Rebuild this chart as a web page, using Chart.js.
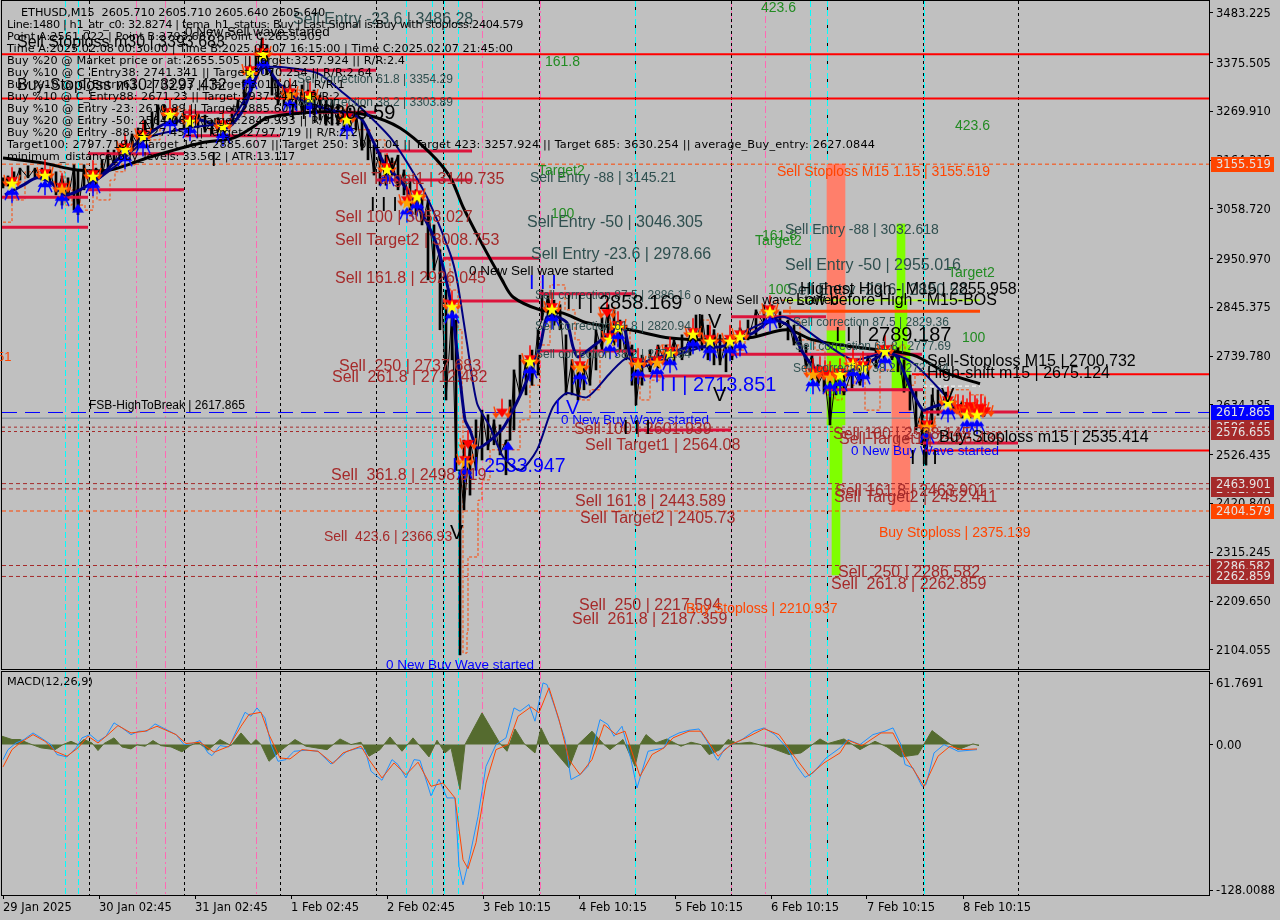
<!DOCTYPE html>
<html>
<head>
<meta charset="utf-8">
<title>ETHUSD,M15</title>
<script src="https://cdn.jsdelivr.net/npm/chart.js@4"></script>
<style>
  html, body { margin: 0; padding: 0; background: #c0c0c0; }
  canvas { position: absolute; left: 0; }
  #priceChart { top: 0; }
  #macdChart { top: 670px; }
</style>
</head>
<body>
<canvas id="priceChart" width="1280" height="670"></canvas>
<canvas id="macdChart" width="1280" height="250"></canvas>
<script>
// x is the bar number counted from the left edge of the chart (one M15 bar per pixel)
const timeTickBars = [1, 97, 193, 289, 385, 481, 577, 673, 769, 865, 961];
const timeTickLabels = ['29 Jan 2025', '30 Jan 02:45', '31 Jan 02:45', '1 Feb 02:45', '2 Feb 02:45',
  '3 Feb 10:15', '4 Feb 10:15', '5 Feb 10:15', '6 Feb 10:15', '7 Feb 10:15', '8 Feb 10:15'];
const priceTicks = [3483.225, 3375.505, 3269.91, 3164.315, 3058.72, 2950.97, 2845.375, 2739.78,
  2634.185, 2526.435, 2420.84, 2315.245, 2209.65, 2104.055];
const macdTickValues = [52, 0, -124];
const macdTickLabels = ['61.7691', '0.00', '-128.0088'];

// price bars
const barBars = [1,6,12,18,26,33,40,48,54,60,66,72,76,82,88,94,100,106,112,118,124,130,136,143,150,156,162,168,174,182,188,196,203,210,216,222,230,236,242,248,254,260,265,270,276,282,288,294,300,306,312,318,324,330,336,342,348,354,360,366,372,378,384,390,396,402,408,414,420,426,432,438,444,450,454,458,462,468,474,480,486,492,498,504,508,512,518,524,530,536,540,546,552,558,564,570,576,582,588,594,600,606,612,618,624,630,634,640,648,656,664,672,680,688,694,700,706,712,718,724,730,738,746,754,762,770,778,786,792,798,804,810,816,822,828,834,842,850,858,866,874,882,890,896,902,908,914,920,924,930,936,944,952,960,968,976,982];
const barHighs = [3126,3130,3139,3147,3152,3147,3147,3143,3139,3130,3126,3154,3143,3154,3139,3147,3165,3186,3186,3197,3208,3221,3234,3251,3269,3284,3284,3277,3277,3269,3273,3269,3262,3251,3256,3247,3277,3295,3338,3370,3403,3429,3414,3359,3338,3327,3327,3316,3327,3316,3316,3305,3295,3295,3284,3273,3277,3269,3256,3230,3197,3186,3175,3169,3175,3143,3121,3100,3089,3078,3024,2970,2883,2840,2818,2493,2558,2558,2602,2623,2613,2602,2591,2558,2645,2710,2742,2732,2753,2797,2883,2872,2861,2851,2786,2732,2710,2721,2753,2797,2823,2851,2840,2818,2807,2764,2710,2742,2753,2764,2764,2775,2786,2786,2829,2829,2807,2797,2786,2775,2786,2801,2818,2840,2851,2851,2836,2818,2807,2786,2764,2742,2721,2706,2699,2699,2699,2710,2721,2742,2753,2764,2764,2758,2732,2699,2667,2623,2580,2656,2667,2662,2645,2641,2634,2628,2623];
const barLows = [3104,3108,3113,3121,3126,3126,3121,3110,3089,3067,3078,3056,3046,3100,3100,3108,3130,3147,3154,3165,3175,3186,3197,3208,3225,3240,3251,3240,3240,3230,3230,3234,3225,3219,3225,3219,3240,3256,3284,3316,3349,3377,3349,3305,3284,3284,3277,3273,3269,3273,3262,3251,3240,3240,3240,3230,3234,3230,3186,3165,3132,3110,3110,3132,3100,3089,3056,3046,3024,2905,2926,2797,2645,2732,2493,2093,2407,2439,2493,2515,2537,2548,2526,2483,2558,2580,2656,2656,2677,2699,2818,2829,2807,2797,2656,2656,2645,2667,2677,2710,2753,2775,2764,2753,2732,2677,2634,2677,2706,2714,2721,2721,2732,2742,2764,2753,2732,2721,2721,2706,2732,2753,2775,2786,2807,2814,2801,2775,2764,2749,2714,2688,2677,2662,2591,2656,2656,2671,2677,2693,2714,2727,2732,2706,2662,2623,2580,2548,2504,2591,2612,2634,2619,2606,2606,2606,2610];

// long moving average
const slowAvgBars = [1,41,75,108,148,198,231,251,265,298,331,365,398,428,448,461,478,500,511,538,561,585,628,668,718,751,785,811,851,911,945,978];
const slowAvgValues = [3169,3158,3143,3143,3171,3201,3212,3236,3256,3266,3269,3262,3234,3180,3128,3063,2991,2905,2868,2840,2833,2812,2797,2779,2775,2781,2797,2775,2760,2742,2703,2680];

// fast and mid navy averages
const fastBars = [3,21,35,48,63,78,98,115,148,165,198,225,241,261,278,298,328,358,368,383,398,418,433,443,450,456,463,468,475,485,501,511,525,538,545,555,565,571,576,595,621,631,658,688,718,751,771,788,801,818,838,858,885,895,908,921,931,948,961,983];
const fastValues = [3089,3110,3126,3117,3089,3100,3128,3165,3223,3245,3251,3234,3273,3370,3327,3295,3273,3256,3219,3154,3121,3056,2991,2916,2840,2732,2602,2580,2541,2552,2584,2623,2688,2760,2825,2825,2812,2760,2738,2768,2803,2725,2738,2760,2760,2790,2818,2803,2747,2703,2703,2716,2747,2738,2673,2623,2630,2638,2617,2612];
const midBars = [95,115,148,188,228,248,261,315,341,361,388,408,425,448,455,465,475,488,501,518,535,551,565,585,608,625,638,668,701,731,781,818,851,885,911,945];
const midValues = [3121,3154,3214,3234,3251,3316,3364,3353,3310,3273,3214,3149,3084,2963,2905,2768,2638,2587,2522,2493,2537,2630,2660,2651,2703,2736,2716,2738,2760,2781,2825,2775,2732,2747,2725,2651];

// orange stepped trail
const trailBars = [1,10,23,48,58,63,70,78,83,91,95,108,113,123,133,148,158,173,193,203,213,228,243,256,266,278,298,318,343,353,368,383,393,408,428,438,448,456,460,461,465,466,476,480,488,498,508,518,528,538,548,563,573,578,588,598,608,618,628,638,648,658,678,688,698,708,723,733,743,758,773,788,798,813,823,833,840,853,863,878,898,903,913,923,933,948,958,968,983];
const trailValues = [3030,3078,3139,3154,3139,3067,3100,3067,3056,3139,3078,3121,3139,3154,3197,3208,3240,3273,3256,3230,3219,3262,3338,3403,3392,3316,3295,3277,3262,3230,3208,3121,3132,3078,3002,2948,2883,2797,2645,2097,2141,2305,2428,2472,2537,2548,2537,2602,2677,2764,2894,2840,2775,2645,2667,2753,2764,2797,2732,2645,2688,2764,2753,2764,2818,2753,2775,2753,2797,2840,2861,2818,2775,2753,2656,2645,2677,2688,2623,2710,2764,2677,2699,2580,2623,2667,2667,2656,2612];

// signal clusters
const yellowBars = [10,43,91,123,141,168,188,221,248,261,308,345,385,415,450,528,550,608,616,668,691,708,728,738,768,838,851,861,883,946,965,975];
const yellowValues = [3113,3130,3128,3186,3214,3262,3247,3236,3353,3392,3299,3251,3143,3084,2846,2727,2840,2775,2801,2745,2786,2771,2771,2781,2835,2699,2721,2714,2749,2638,2612,2612];
const orangeBars = [60,288,405,463,578,636,655,811,828,925];
const orangeValues = [3100,3305,3071,2509,2714,2721,2725,2699,2693,2586];
const flameBars = [466,500,605,818,823,956,961,968,973,979,983];
const flameValues = [2552,2620,2836,2712,2704,2630,2628,2634,2628,2630,2623];
const upArrowBars = [76,506];
const upArrowValues = [3046,2532];

// horizontal levels
const fullRedLevels = [3393.683, 3297.432];
const shortRedStarts = [910, 921];
const shortRedLevels = [2700.732, 2535.414];
const crimsonStarts = [0,0,86,86,182,182,278,374,374,441,441,537,537,633,633,729,729,825,921,921];
const crimsonEnds = [86,86,182,182,278,374,374,470,470,537,537,633,633,729,729,824,920,921,1016,1016];
const crimsonLevels = [3084,3019,3100,3178,3217,3268,3359,3184,3121,2952,2859,2875,2751,2697,2580,2825,2744,2667,2619,2552];
const dottedLevels = [2586.145, 2576.655];
const brownDashLevels = [2463.901, 2452.411, 2286.582, 2262.859];
const orangeDashLevels = [3155.519, 2404.579];
const bidLevel = 2605.64;
const highToBreak = 2617.865;

// vertical time markers
const blackLines = [87, 182, 278, 374, 441, 537, 633, 729, 825, 921, 1016];
const cyanLines = [63, 76, 404, 430, 442, 456, 633, 808, 825, 922];
const pinkLines = [134, 163, 254, 480, 538, 729, 763];

// coloured zones (bar, low, high)
const zoneSalmonA = [834, 2796, 3155.5];
const zoneGreenA = [834, 2591, 2796];
const zoneGreenB = [834, 2465, 2591];
const zoneGreenC = [834, 2266, 2465];
const zoneGreenD = [899, 2861, 3026];
const zoneGreenE = [899, 2764, 2861];
const zoneGreenF = [899, 2671, 2764];
const zoneSalmonB = [899, 2405, 2671];

// right side price boxes
const boxValues = [3155.519, 2586.145, 2576.655, 2617.865, 2452.411, 2463.901, 2404.579, 2286.582, 2262.859];
const boxColors = ['#ff4500', '#a52a2a', '#a52a2a', '#0000ff', '#a52a2a', '#a52a2a', '#ff4500', '#a52a2a', '#a52a2a'];

// MACD
const macdBars = [1,6,14,22,31,39,49,55,65,74,80,88,96,104,112,120,129,137,145,153,161,174,182,190,198,206,210,218,227,235,243,249,255,263,269,276,284,292,304,316,329,337,345,357,363,369,380,390,396,404,412,418,429,437,445,453,457,461,467,476,484,494,504,512,518,527,533,541,545,553,563,569,578,586,598,606,612,620,629,635,646,662,667,677,687,697,705,714,716,722,730,740,752,762,773,785,795,803,811,824,838,846,858,871,883,891,899,903,911,920,924,932,942,956,975];
const macdValues = [-12.8,-4.3,1.4,4.3,9.9,5.7,0,-8.5,-10.5,-2.8,5.7,8.5,2.8,7.1,18.5,14.2,8.5,11.4,11.4,17.6,14.2,8.5,0,0.9,3.4,-7.1,-9.4,-0.9,-2,12.8,27.5,24.1,31.2,22.7,0,-14.2,-12.8,-5.7,-4.8,-5.7,-16.5,-11.4,-5.7,-2.8,-4.3,-22.7,-30.4,-12.8,-17,-28.4,-12.8,-13.5,-43.6,-29.5,-45.4,-45.4,-103.7,-119.3,-98,-61.1,-18.5,0,5.7,31.2,28.4,34.1,19.9,52.5,51.1,31.2,4.3,-29.8,-25.6,-18.5,21.3,17,7.1,15.6,-12.8,-36.9,-5.7,-2.8,5.7,9.9,12.2,13.3,2.8,-11.4,-13.4,-4.3,0,4.3,11.4,14.2,8.5,-2.8,-18.5,-27.9,-24.1,-11.4,-2.8,4.3,0,8.5,11.4,14.2,0,-17,-19.9,-35.5,-34.1,-7.1,0,-5.7,-4.3];
const signalBars = [1,10,18,31,43,53,65,76,86,96,106,116,129,143,155,174,184,198,212,227,239,247,259,267,278,288,300,316,331,341,359,367,380,392,404,416,429,441,453,461,466,474,484,494,506,516,529,537,547,557,567,578,590,602,614,623,638,650,662,671,687,699,716,729,744,762,777,791,807,822,838,846,860,879,891,903,922,936,948,960,975];
const signalValues = [-19,-4.3,1.4,8.5,2.8,-5.7,-9.9,-2.8,7.1,1.4,8.5,16.2,9.9,11.4,15.6,8.5,0.9,2,-6.5,-1.4,15.6,25.6,27.5,8.5,-11.4,-12.2,-4.3,-5.7,-16.2,-7.1,-1.4,-12.8,-28.4,-15.6,-25.6,-15,-35.5,-32.7,-45.4,-98,-105.6,-83.5,-32.7,-4.3,0,24.1,32.1,27,48.3,21.3,-12.8,-25.6,-12.8,17,8.5,11.4,-27,-8.5,-2.8,5.7,11.4,11.4,-9.9,0,5.7,13.5,8.5,-8.5,-26.4,-15.6,-7.1,3.7,-0.9,9.9,9.9,-9.9,-35.5,-9.9,-1.4,-4.3,-3.7];
const histBars = [0,10,18,27,39,53,61,69,76,82,90,96,102,112,120,129,135,143,151,159,169,180,188,196,206,218,229,239,249,254,259,267,280,293,304,325,338,349,359,367,378,388,400,411,427,435,443,449,458,463,480,498,505,513,522,533,539,547,567,576,590,602,608,621,633,638,644,654,665,679,689,699,707,718,726,736,748,769,787,799,818,826,842,858,873,885,899,916,930,944,956,971,977];
const histValues = [7.1,4.3,4.3,0.9,-2.8,-4.3,0,2.8,0,4.3,1.4,-5.1,0.9,5.7,-2,-3.7,-0.3,-1.4,3.4,-0.9,-2,-6.2,-0.9,2,-4.8,4.3,-0.9,9.9,0,4.3,0,-14.2,-4.3,4.3,-1.4,-4.3,4.8,0,2,-9.9,-4.3,6.5,-5.7,5.7,-10.5,3.7,-7.1,-2.8,-38.3,0,27,0.9,-5.7,13.3,0.9,-7.1,14.2,0,-19.9,0,11.4,0,-4.3,4.3,-18.5,0,8.5,1.4,4.8,-1.4,2,0,-8.5,-4.3,4.3,0.9,2,-2.8,-8.5,-7.1,4.8,0.9,4.8,-4.3,2.8,-2,-10.5,-8.5,11.9,2.8,-4.3,0.6,-0.9];

// text drawn on the price panel: text, left x, middle y, font size, colour
const BROWN = '#a52a2a', SLATE = '#2f4f4f', BLUE = '#0000ff', GREEN = '#228b22', ORANGE = '#ff4500', BLACK = '#000000';
const notes = [
  ['Sell Entry -23.6 | 3486.28', 293, 20, 16, SLATE],
  ['Sell Stoploss m30 | 3393.683', 17, 43, 16, BLACK],
  ['Buy-Stoploss m30 | 3297.432', 17, 86, 16, BLACK],
  ['0 New Sell wave started', 185, 32, 13.5, BLACK],
  ['Sell correction 61.8 | 3354.29', 297, 80, 12, SLATE],
  ['Sell correction 38.2 | 3303.89', 297, 103, 12, SLATE],
  ['I I | 3306.59', 290, 113, 20, BLACK],
  ['Sell Target1 | 3140.735', 340, 180, 16, BROWN],
  ['Sell 100 | 3058.027', 335, 218, 16, BROWN],
  ['Sell Target2 | 3008.753', 335, 241, 16, BROWN],
  ['Sell 161.8 | 2926.045', 335, 279, 16, BROWN],
  ['Sell  250 | 2737.683', 339, 367, 16, BROWN],
  ['Sell  261.8 | 2712.482', 332, 378, 16, BROWN],
  ['Sell  361.8 | 2498.919', 331, 476, 16, BROWN],
  ['Sell  423.6 | 2366.93', 324, 537, 14, BROWN],
  ['Sell Entry -88 | 3145.21', 530, 178, 14, SLATE],
  ['Sell Entry -50 | 3046.305', 527, 223, 16, SLATE],
  ['Sell Entry -23.6 | 2978.66', 531, 255, 16, SLATE],
  ['0 New Sell wave started', 469, 271, 13.5, BLACK],
  ['Sell correction 87.5 | 2886.16', 535, 296, 12, SLATE],
  ['Sell correction 61.8 | 2820.94', 535, 327, 12, SLATE],
  ['Sell correction 38.2 | 2771.94', 535, 355, 12, SLATE],
  ['I I | 2858.169', 566, 303, 20, BLACK],
  ['0 New Sell wave started', 694, 300, 13.5, BLACK],
  ['I I | 2713.851', 660, 385, 20, BLUE],
  ['I I | 2533.947', 452, 467, 19.5, BLUE],
  ['I V', 555, 408, 20, BLUE],
  ['0 New Buy Wave started', 561, 420, 13.5, BLUE],
  ['Sell 100 | 2601.939', 574, 430, 16, BROWN],
  ['Sell Target1 | 2564.08', 585, 446, 16, BROWN],
  ['Sell 161.8 | 2443.589', 575, 502, 16, BROWN],
  ['Sell Target2 | 2405.73', 580, 519, 16, BROWN],
  ['Sell  250 | 2217.594', 579, 606, 16, BROWN],
  ['Sell  261.8 | 2187.359', 572, 620, 16, BROWN],
  ['Buy Stoploss | 2210.937', 686, 609, 14, ORANGE],
  ['0 New Buy Wave started', 386, 665, 13.5, BLUE],
  ['423.6', 761, 8, 14, GREEN],
  ['161.8', 545, 62, 14, GREEN],
  ['423.6', 955, 126, 14, GREEN],
  ['Target2', 538, 171, 14, GREEN],
  ['100', 551, 214, 14, GREEN],
  ['161.8', 762, 236, 14, GREEN],
  ['Target2', 755, 241, 14, GREEN],
  ['Target2', 948, 273, 14, GREEN],
  ['100', 768, 290, 14, GREEN],
  ['100', 962, 338, 14, GREEN],
  ['Sell Stoploss M15 1.15 | 3155.519', 777, 172, 14, ORANGE],
  ['Sell Entry -88 | 3032.618', 785, 230, 14, SLATE],
  ['Sell Entry -50 | 2955.016', 785, 266, 16, SLATE],
  ['Sell Entry -23.6 | 2890.52', 787, 291, 16, SLATE],
  ['Highest High - M15 | 2855.958', 800, 290, 16, BLACK],
  ['Low before High - M15-BOS', 796, 301, 16, BLACK],
  ['Sell correction 87.5 | 2829.36', 793, 323, 12, SLATE],
  ['I I | 2789.187', 835, 335, 20, BLACK],
  ['Sell correction 61.8 | 2777.69', 795, 347, 12, SLATE],
  ['Sell correction 38.2 | 2727.44', 793, 369, 12, SLATE],
  ['Sell-Stoploss M15 | 2700.732', 927, 362, 16, BLACK],
  ['High-shift m15 | 2675.124', 927, 374, 16, BLACK],
  ['Sell 100 | 2538.145', 833, 435, 16, BROWN],
  ['Sell Target1 | 2526.435', 839, 440, 16, BROWN],
  ['Buy-Stoploss m15 | 2535.414', 939, 438, 16, BLACK],
  ['0 New Buy Wave started', 851, 451, 13.5, BLUE],
  ['Sell 161.8 | 2463.901', 835, 492, 16, BROWN],
  ['Sell Target2 | 2452.411', 834, 498, 16, BROWN],
  ['Buy Stoploss | 2375.139', 879, 533, 14, ORANGE],
  ['Sell  250 | 2286.582', 838, 573, 16, BROWN],
  ['Sell  261.8 | 2262.859', 831, 585, 16, BROWN],
  ['I I I', 370, 205, 20, BLACK],
  ['V', 386, 163, 20, BLACK],
  ['V', 450, 533, 20, BLACK],
  ['I I I', 529, 283, 20, BLUE],
  ['I V', 697, 322, 20, BLACK],
  ['I I I', 623, 428, 20, BLACK],
  ['V', 713, 395, 20, BLACK],
  ['I V', 930, 396, 20, BLACK],
  ['I I I', 910, 458, 20, BLACK],
  ['I', 211, 160, 20, BLACK],
  ['FSB-HighToBreak | 2617.865', 89, 406, 12, BLACK],
  ['51', -3, 357, 13, ORANGE]
];
const infoFont = '11.3px "DejaVu Sans"';
// text, middle y, right end of the line
const infoLines = [
  ['    ETHUSD,M15  2605.710 2605.710 2605.640 2605.640', 13, 325],
  ['Line:1480 | h1_atr_c0: 32.8274 | tema_h1_status: Buy | Last Signal is:Buy with stoploss:2404.579', 25, 523],
  ['Point A:2561.022 | Point B:2793.667 | Point C:2655.505', 37, 322],
  ['Time A:2025.02.08 00:30:00 | Time B:2025.02.07 16:15:00 | Time C:2025.02.07 21:45:00', 49, 513],
  ['Buy %20 @ Market price or at: 2655.505 || Target:3257.924 || R/R:2.4', 61, 405],
  ['Buy %10 @ C_Entry38: 2741.341 || Target:3070.254 || R/R:2.64', 73, 372],
  ['Buy %10 @ C_Entry61: 2703.23 || Target:3011.04 || R/R:1', 85, 345],
  ['Buy %10 @ C_Entry88: 2671.23 || Target:2937.841 || R/R:2', 97, 340],
  ['Buy %10 @ Entry -23: 2610.89 || Target:2885.607 || R/R:2', 109, 342],
  ['Buy %20 @ Entry -50: 2564.08 || Target:2849.993 || R/R:2', 121, 342],
  ['Buy %20 @ Entry -88: 2527.451 || Target:2797.719 || R/R:2.2', 133, 358],
  ['Target100: 2797.719 || Target 161: 2885.607 || Target 250: 3011.04 || Target 423: 3257.924 || Target 685: 3630.254 || average_Buy_entry: 2627.0844', 145, 875],
  ['minimum_distance_buy_levels: 33.562 | ATR:13.117', 157, 295]
];

const xy = (xs, ys) => xs.map((x, i) => ({ x: x, y: ys[i] }));
const line = (data, color, width, order, extra) => Object.assign({
  type: 'line', data: data, borderColor: color, borderWidth: width, pointRadius: 0, order: order, fill: false, spanGaps: false
}, extra || {});
const zone = (z, color, thickness) => ({
  type: 'bar', data: [{ x: z[0], y: [z[1], z[2]] }], backgroundColor: color, barThickness: thickness, grouped: false, order: 90
});
const segments = (starts, ends, levels) => {
  const out = [];
  levels.forEach((l, i) => { out.push({ x: starts[i], y: l }, { x: ends[i], y: l }, { x: ends[i], y: null }); });
  return out;
};
const full = (levels) => segments(levels.map(() => 0), levels.map(() => 1207), levels);
// black zigzag joining the bar ends, so the gaps between the bars fill in like the dense M15 bars
const zigzag = barBars.map((b, i) => ({ x: b, y: i % 2 ? barHighs[i] : barLows[i] }));

// signal icons
function iconCanvas(w, h, draw) {
  const c = document.createElement('canvas');
  c.width = w; c.height = h;
  draw(c.getContext('2d'), w / 2, h / 2);
  return c;
}
function star(ctx, cx, cy, r, color) {
  ctx.fillStyle = color;
  ctx.beginPath();
  for (let i = 0; i < 10; i++) {
    const a = -Math.PI / 2 + i * Math.PI / 5, q = i % 2 ? r * 0.4 : r;
    ctx.lineTo(cx + q * Math.cos(a), cy + q * Math.sin(a));
  }
  ctx.closePath();
  ctx.fill();
}
function arrow(ctx, x, y, dir, size, color, lean) {
  ctx.fillStyle = color;
  ctx.strokeStyle = color;
  ctx.lineWidth = 1.5;
  ctx.beginPath();
  ctx.moveTo(x, y);
  ctx.lineTo(x + size * 0.55, y + dir * size * 0.8);
  ctx.lineTo(x - size * 0.55, y + dir * size * 0.8);
  ctx.closePath();
  ctx.fill();
  ctx.beginPath();
  ctx.moveTo(x, y + dir * size * 0.6);
  ctx.lineTo(x + (lean || 0), y + dir * size * 1.7);
  ctx.stroke();
}
function flames(ctx, cx, cy) {
  arrow(ctx, cx - 6, cy + 3, -1, 7, '#ff4500', -2);
  arrow(ctx, cx + 6, cy + 3, -1, 7, '#ff4500', 2);
  arrow(ctx, cx, cy + 2, -1, 11, '#ff0000', 0);
}
function blues(ctx, cx, cy) {
  arrow(ctx, cx - 4, cy + 6, 1, 6, '#0000ff', -3);
  arrow(ctx, cx + 4, cy + 6, 1, 6, '#0000ff', 3);
  arrow(ctx, cx, cy + 4, 1, 9, '#0000ff', 0);
}
const yellowIcon = iconCanvas(32, 60, (c, x, y) => { blues(c, x, y); flames(c, x, y); star(c, x, y, 7, '#ffff00'); });
const orangeIcon = iconCanvas(32, 60, (c, x, y) => { blues(c, x, y); flames(c, x, y); star(c, x, y, 7, '#ffa500'); });
const flameIcon = iconCanvas(30, 36, (c, x, y) => { flames(c, x, y + 4); });
const upIcon = iconCanvas(18, 26, (c, x, y) => { arrow(c, x, 2, 1, 11, '#0000ff', 0); });

const markerSet = (data, icon) => ({
  type: 'line', data: data, showLine: false, pointStyle: icon, pointRadius: 8, order: 5
});

// the panels sit flush with the frame, so drop the room chart.js keeps for half a tick label
const tightAxis = (s, w, h) => {
  if (w) s.width = w;
  if (h) s.height = h;
  s.paddingTop = 0; s.paddingBottom = 0; s.paddingLeft = 0; s.paddingRight = 0;
};

// plugin shared by the panels: frame and vertical markers under the data
const drawVerticals = (chart) => {
  const c = chart.ctx, a = chart.chartArea, xs = chart.scales.x;
  const group = (list, color, dash) => {
    c.strokeStyle = color;
    c.setLineDash(dash);
    c.lineWidth = 1;
    list.forEach((b) => {
      const px = Math.round(xs.getPixelForValue(b)) + 0.5;
      c.beginPath(); c.moveTo(px, a.top); c.lineTo(px, a.bottom); c.stroke();
    });
  };
  c.save();
  group(pinkLines, '#ff69b4', [7, 3, 2, 3]);
  group(blackLines, '#000000', [3, 3]);
  group(cyanLines, '#00ffff', [6, 3]);
  c.restore();
};
const panelPlugin = {
  id: 'panel',
  beforeDatasetsDraw: drawVerticals,
  afterDraw(chart) {
    const c = chart.ctx, a = chart.chartArea;
    c.save();
    c.strokeStyle = '#000000';
    c.lineWidth = 1;
    c.strokeRect(a.left - 0.5, a.top - 0.5, a.right - a.left + 1, a.bottom - a.top + 1);
    c.restore();
  }
};
const textPlugin = {
  id: 'texts',
  afterDraw(chart) {
    const c = chart.ctx, y = chart.scales.y;
    c.save();
    c.textBaseline = 'middle';
    notes.forEach((n) => {
      c.font = n[3] + 'px "Liberation Sans"';
      c.fillStyle = n[4];
      c.fillText(n[0], n[1], n[2]);
    });
    c.font = infoFont;
    c.fillStyle = '#000000';
    infoLines.forEach((l) => {
      c.letterSpacing = '0px';
      const w = c.measureText(l[0]).width;
      c.letterSpacing = ((l[2] - 7 - w) / l[0].length).toFixed(3) + 'px';
      c.fillText(l[0], 7, l[1]);
    });
    c.letterSpacing = '0px';
    // price boxes on the right axis
    c.font = '11.5px "DejaVu Sans"';
    boxValues.forEach((v, i) => {
      const py = Math.round(y.getPixelForValue(v));
      c.fillStyle = boxColors[i];
      c.fillRect(1211, py - 7, 63, 15);
      c.fillStyle = '#e4e4e4';
      c.fillText(v.toFixed(3), 1216, py + 1);
    });
    c.restore();
  }
};

new Chart(document.getElementById('priceChart'), {
  type: 'line',
  data: {
    datasets: [
      zone(zoneSalmonA, '#ff7f6b', 18),
      zone(zoneGreenA, '#7fff00', 18),
      zone(zoneGreenB, '#7fff00', 12),
      zone(zoneGreenC, '#7fff00', 8),
      zone(zoneGreenD, '#7fff00', 8),
      zone(zoneGreenE, '#7fff00', 12),
      zone(zoneGreenF, '#7fff00', 18),
      zone(zoneSalmonB, '#ff7f6b', 18),
      line(full([bidLevel]), '#778899', 1, 80),
      line(full([highToBreak]), '#0000ff', 1, 80, { borderDash: [15, 8] }),
      line(full(dottedLevels), '#a52a2a', 1, 80, { borderDash: [3, 3] }),
      line(full(brownDashLevels), '#a52a2a', 1, 80, { borderDash: [4, 3] }),
      line(full(orangeDashLevels), '#ff4500', 1, 80, { borderDash: [4, 3] }),
      line(full(fullRedLevels), '#ff0000', 2, 20),
      line(segments(shortRedStarts, [1207, 1207], shortRedLevels), '#ff0000', 2, 20),
      line(segments(crimsonStarts, crimsonEnds, crimsonLevels), '#dc143c', 3, 20),
      line(segments([783], [978], [2861]), '#adff2f', 2, 20),
      line(segments([781], [978], [2837]), '#ff4500', 3, 20),
      line(segments([921], [978], [2675]), '#ffffff', 1, 20, { borderDash: [4, 3] }),
      line(xy(trailBars, trailValues), '#ff4500', 1, 40, { stepped: true, borderDash: [3, 2] }),
      { type: 'bar', data: barBars.map((b, i) => ({ x: b, y: [barLows[i], barHighs[i]] })), backgroundColor: '#000000', barThickness: 2, grouped: false, order: 30 },
      line(zigzag, '#000000', 1, 31),
      line(xy(slowAvgBars, slowAvgValues), '#000000', 3, 10, { tension: 0.3 }),
      line(xy(midBars, midValues), '#000080', 2, 9, { tension: 0.25 }),
      line(xy(fastBars, fastValues), '#000080', 3, 8, { tension: 0.25 }),
      markerSet(xy(yellowBars, yellowValues), yellowIcon),
      markerSet(xy(orangeBars, orangeValues), orangeIcon),
      markerSet(xy(flameBars, flameValues), flameIcon),
      markerSet(xy(upArrowBars, upArrowValues), upIcon)
    ]
  },
  options: {
    responsive: false,
    animation: false,
    devicePixelRatio: 1,
    events: [],
    layout: { autoPadding: false, padding: { left: 2, top: 1, bottom: 1, right: 0 } },
    plugins: { legend: { display: false }, tooltip: { enabled: false } },
    scales: {
      x: { type: 'linear', min: 0, max: 1207, display: false, offset: false },
      y: {
        position: 'right', min: 2062.5, max: 3508.8,
        afterBuildTicks: (s) => { s.ticks = priceTicks.map((v) => ({ value: v })); },
        afterFit: (s) => tightAxis(s, 71),
        grid: { drawOnChartArea: false, color: '#000000', tickLength: 4 },
        border: { color: '#000000' },
        ticks: {
          autoSkip: false, padding: 3, color: '#000000', labelOffset: 1,
          font: { family: 'DejaVu Sans', size: 11.5 },
          callback: (v) => v.toFixed(3)
        }
      }
    }
  },
  plugins: [panelPlugin, textPlugin]
});

const macdLabelPlugin = {
  id: 'macdLabel',
  afterDraw(chart) {
    const c = chart.ctx;
    c.save();
    c.font = infoFont;
    c.fillStyle = '#000000';
    c.textBaseline = 'middle';
    c.fillText('MACD(12,26,9)', 7, 12);
    c.restore();
  }
};

new Chart(document.getElementById('macdChart'), {
  type: 'line',
  data: {
    datasets: [
      line(xy(histBars, histValues), '#556b2f', 1, 30, { fill: { value: 0 }, backgroundColor: '#556b2f' }),
      line(xy(macdBars, macdValues), '#1e90ff', 1, 20),
      line(xy(signalBars, signalValues), '#ff4500', 1, 10)
    ]
  },
  options: {
    responsive: false,
    animation: false,
    devicePixelRatio: 1,
    events: [],
    layout: { autoPadding: false, padding: { left: 2, top: 2, bottom: 0, right: 0 } },
    plugins: { legend: { display: false }, tooltip: { enabled: false } },
    scales: {
      x: {
        type: 'linear', min: 0, max: 1207, offset: false,
        afterBuildTicks: (s) => { s.ticks = timeTickBars.map((v) => ({ value: v })); },
        afterFit: (s) => tightAxis(s, 0, 25),
        grid: { drawOnChartArea: false, color: '#000000', tickLength: 4 },
        border: { color: '#000000' },
        ticks: {
          autoSkip: false, maxRotation: 0, align: 'start', padding: 2, color: '#000000',
          font: { family: 'DejaVu Sans', size: 11.5 },
          callback: (v) => timeTickLabels[timeTickBars.indexOf(v)]
        }
      },
      y: {
        position: 'right', min: -128.0088, max: 61.7691,
        afterBuildTicks: (s) => { s.ticks = macdTickValues.map((v) => ({ value: v })); },
        afterFit: (s) => tightAxis(s, 71),
        grid: { drawOnChartArea: false, color: '#000000', tickLength: 4 },
        border: { color: '#000000' },
        ticks: {
          autoSkip: false, padding: 3, color: '#000000', labelOffset: 1,
          font: { family: 'DejaVu Sans', size: 11.5 },
          callback: (v) => macdTickLabels[macdTickValues.indexOf(v)]
        }
      }
    }
  },
  plugins: [panelPlugin, macdLabelPlugin]
});
</script>
</body>
</html>
